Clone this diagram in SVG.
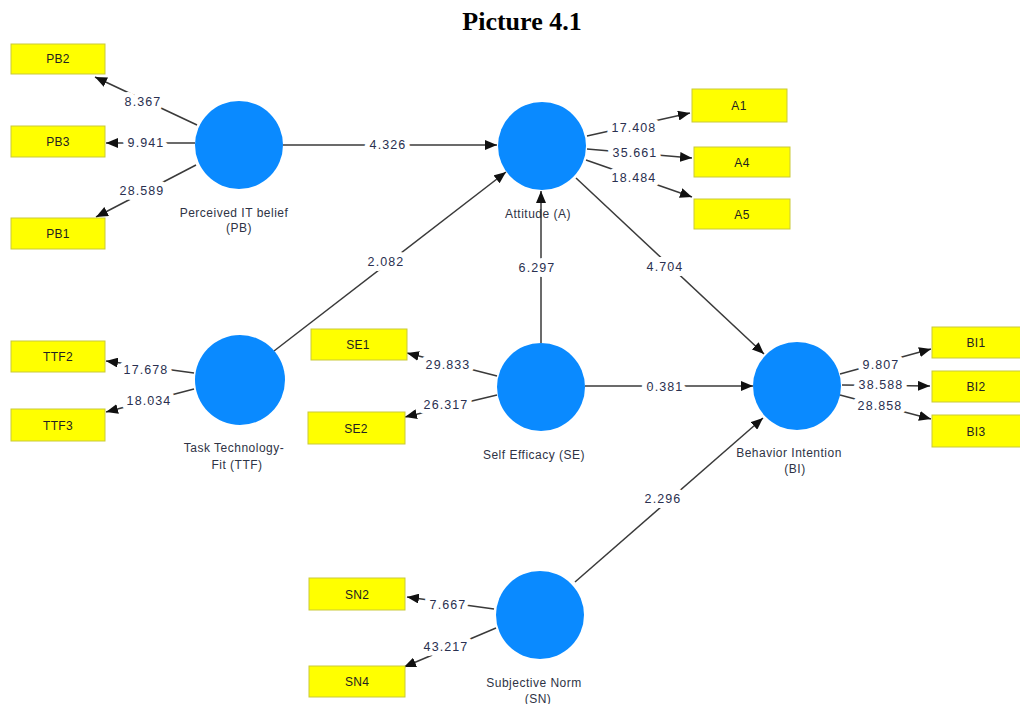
<svg xmlns="http://www.w3.org/2000/svg" width="1020" height="704" viewBox="0 0 1020 704">
  <style>
    .lv { fill: #0a8aff; }
    .ind rect { fill: #ffff00; stroke: #c9c93a; stroke-width: 1; }
    .ind text { font-family: "Liberation Sans", Arial, sans-serif; font-size: 12px; letter-spacing: 0.3px; fill: #222; text-anchor: middle; }
    .name { font-family: "Liberation Sans", Arial, sans-serif; font-size: 12px; letter-spacing: 0.5px; fill: #2e3345; text-anchor: middle; }
    .edges line { stroke: #3a3a3a; stroke-width: 1.5; marker-end: url(#arr); }
    .coef { font-family: "Liberation Sans", Arial, sans-serif; font-size: 12.5px; letter-spacing: 1.1px; fill: #2a3050; text-anchor: middle;
            stroke: #ffffff; stroke-width: 10; stroke-linejoin: round; paint-order: stroke; }
    .title { font-family: "Liberation Serif", "Times New Roman", serif; font-weight: bold; font-size: 26px; fill: #000; text-anchor: middle; }
  </style>
  <defs>
    <marker id="arr" viewBox="0 0 12 10" refX="12" refY="5" markerWidth="12" markerHeight="10" markerUnits="userSpaceOnUse" orient="auto">
      <path d="M0,0 L12,5 L0,10 Z" fill="#111"/>
    </marker>
  </defs>

  <rect width="1020" height="704" fill="#ffffff"/>
  <text class="title" x="522" y="30">Picture 4.1</text>

  <!-- connectors -->
  <g id="connectors" class="edges">
    <line x1="197" y1="125" x2="95" y2="77"/>
    <line x1="195" y1="143" x2="106" y2="143"/>
    <line x1="196" y1="165" x2="96" y2="217"/>
    <line x1="283" y1="145" x2="497" y2="145"/>
    <line x1="274" y1="351" x2="506" y2="172"/>
    <line x1="541" y1="343" x2="541" y2="191"/>
    <line x1="576" y1="178" x2="764" y2="354"/>
    <line x1="585" y1="386" x2="753" y2="386"/>
    <line x1="575" y1="582" x2="763" y2="418"/>
    <line x1="587" y1="136" x2="690" y2="113"/>
    <line x1="587" y1="149" x2="692" y2="158"/>
    <line x1="586" y1="160" x2="692" y2="197"/>
    <line x1="194" y1="373" x2="106" y2="361"/>
    <line x1="194" y1="389" x2="106" y2="412"/>
    <line x1="497" y1="376" x2="407" y2="353"/>
    <line x1="497" y1="395" x2="405" y2="417"/>
    <line x1="840" y1="374" x2="931" y2="349"/>
    <line x1="842" y1="385" x2="930" y2="386"/>
    <line x1="840" y1="395" x2="931" y2="419"/>
    <line x1="494" y1="609" x2="407" y2="597"/>
    <line x1="496" y1="628" x2="404" y2="667"/>
  </g>

  <!-- path coefficients -->
  <g id="coefficients">
    <text class="coef" x="143" y="106">8.367</text>
    <text class="coef" x="146" y="147">9.941</text>
    <text class="coef" x="142" y="195">28.589</text>
    <text class="coef" x="388" y="149">4.326</text>
    <text class="coef" x="634" y="132">17.408</text>
    <text class="coef" x="635" y="157">35.661</text>
    <text class="coef" x="634" y="182">18.484</text>
    <text class="coef" x="386" y="266">2.082</text>
    <text class="coef" x="537" y="272">6.297</text>
    <text class="coef" x="665" y="271">4.704</text>
    <text class="coef" x="146" y="374">17.678</text>
    <text class="coef" x="149" y="405">18.034</text>
    <text class="coef" x="448" y="369">29.833</text>
    <text class="coef" x="446" y="409">26.317</text>
    <text class="coef" x="665" y="391">0.381</text>
    <text class="coef" x="881" y="369">9.807</text>
    <text class="coef" x="881" y="389">38.588</text>
    <text class="coef" x="880" y="410">28.858</text>
    <text class="coef" x="663" y="503">2.296</text>
    <text class="coef" x="448" y="609">7.667</text>
    <text class="coef" x="446" y="651">43.217</text>
  </g>

  <!-- latent variables -->
  <g id="PB">
    <circle class="lv" cx="239" cy="145" r="44"/>
    <text class="name" x="234" y="217">Perceived IT belief</text>
    <text class="name" x="239" y="232">(PB)</text>
  </g>
  <g id="A">
    <circle class="lv" cx="542" cy="146" r="44"/>
    <text class="name" x="538" y="218">Attitude (A)</text>
  </g>
  <g id="TTF">
    <circle class="lv" cx="240" cy="380" r="45"/>
    <text class="name" x="234" y="452">Task Technology-</text>
    <text class="name" x="237" y="469">Fit (TTF)</text>
  </g>
  <g id="SE">
    <circle class="lv" cx="541" cy="387" r="44"/>
    <text class="name" x="534" y="459">Self Efficacy (SE)</text>
  </g>
  <g id="BI">
    <circle class="lv" cx="797" cy="386" r="44"/>
    <text class="name" x="789" y="457">Behavior Intention</text>
    <text class="name" x="795" y="473">(BI)</text>
  </g>
  <g id="SN">
    <circle class="lv" cx="540" cy="615" r="44"/>
    <text class="name" x="534" y="687">Subjective Norm</text>
    <text class="name" x="538" y="703">(SN)</text>
  </g>

  <!-- indicators -->
  <g id="PB2" class="ind"><rect x="11" y="44" width="94" height="30"/><text x="58" y="63">PB2</text></g>
  <g id="PB3" class="ind"><rect x="11" y="126" width="94" height="31"/><text x="58" y="146">PB3</text></g>
  <g id="PB1" class="ind"><rect x="11" y="218" width="94" height="31"/><text x="58" y="238">PB1</text></g>
  <g id="TTF2" class="ind"><rect x="11" y="341" width="94" height="31"/><text x="58" y="361">TTF2</text></g>
  <g id="TTF3" class="ind"><rect x="11" y="409" width="94" height="32"/><text x="58" y="430">TTF3</text></g>
  <g id="SE1" class="ind"><rect x="311" y="329" width="96" height="31"/><text x="358" y="349">SE1</text></g>
  <g id="SE2" class="ind"><rect x="308" y="412" width="97" height="32"/><text x="356" y="433">SE2</text></g>
  <g id="A1" class="ind"><rect x="692" y="89" width="95" height="33"/><text x="739" y="110">A1</text></g>
  <g id="A4" class="ind"><rect x="694" y="147" width="96" height="30"/><text x="742" y="167">A4</text></g>
  <g id="A5" class="ind"><rect x="694" y="199" width="96" height="30"/><text x="742" y="219">A5</text></g>
  <g id="BI1" class="ind"><rect x="932" y="327" width="92" height="31"/><text x="976" y="347">BI1</text></g>
  <g id="BI2" class="ind"><rect x="932" y="371" width="92" height="31"/><text x="976" y="391">BI2</text></g>
  <g id="BI3" class="ind"><rect x="932" y="415" width="92" height="32"/><text x="976" y="436">BI3</text></g>
  <g id="SN2" class="ind"><rect x="309" y="578" width="96" height="32"/><text x="357" y="599">SN2</text></g>
  <g id="SN4" class="ind"><rect x="309" y="666" width="96" height="31"/><text x="357" y="686">SN4</text></g>
</svg>
